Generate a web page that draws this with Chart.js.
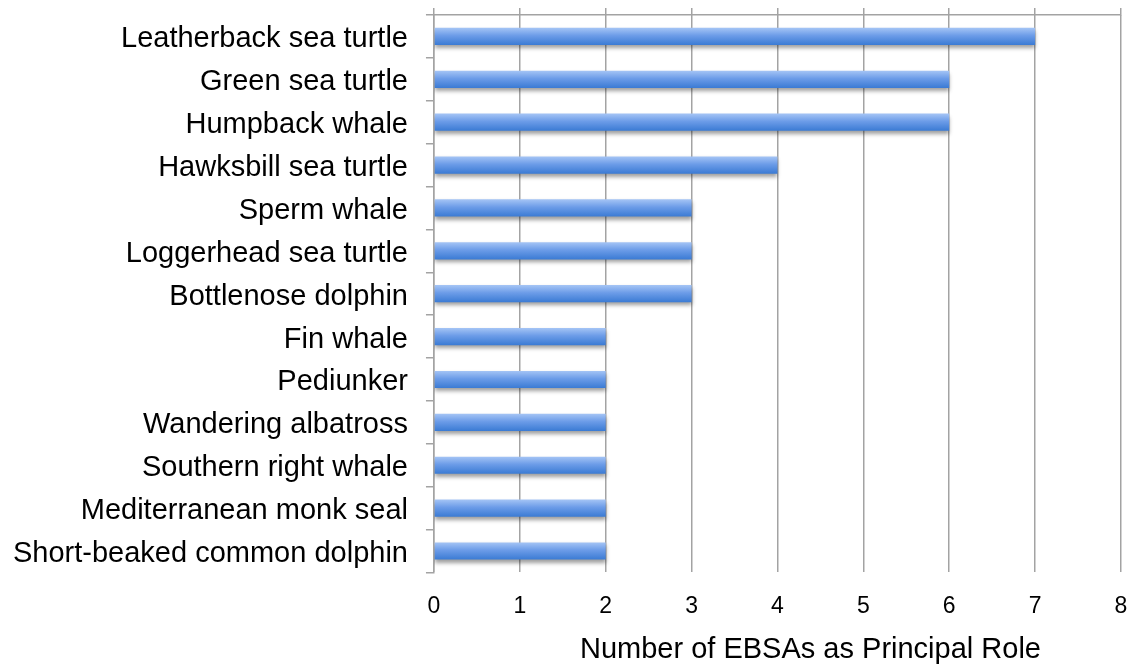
<!DOCTYPE html>
<html>
<head>
<meta charset="utf-8">
<script src="https://cdn.jsdelivr.net/npm/chart.js@4/dist/chart.umd.min.js"></script>
<style>
  html, body { margin: 0; padding: 0; background: #ffffff; }
  #wrap { width: 1132px; height: 664px; }
</style>
</head>
<body>
<div id="wrap"><canvas id="chart" width="1132" height="664"></canvas></div>
<script>
// Species and how many EBSAs each serves as a principal role
const species = [
  'Leatherback sea turtle',
  'Green sea turtle',
  'Humpback whale',
  'Hawksbill sea turtle',
  'Sperm whale',
  'Loggerhead sea turtle',
  'Bottlenose dolphin',
  'Fin whale',
  'Pediunker',
  'Wandering albatross',
  'Southern right whale',
  'Mediterranean monk seal',
  'Short-beaked common dolphin'
];
const ebsaCounts = [7, 6, 6, 4, 3, 3, 3, 2, 2, 2, 2, 2, 2];
const valueTicks = [0, 1, 2, 3, 4, 5, 6, 7, 8];
const axisTitle = 'Number of EBSAs as Principal Role';

const FONT = "'Liberation Sans', Arial, Helvetica, sans-serif";
const GRID = '#a3a3a3';

// Vertical gradient for each bar, lighter at the top
function barFill(context) {
  const chart = context.chart;
  const y = chart.scales && chart.scales.y;
  if (!chart.chartArea || !y) return '#6a9be6';
  const c = y.getPixelForValue(context.dataIndex);
  const half = 8.5;
  const g = chart.ctx.createLinearGradient(0, c - half, 0, c + half);
  g.addColorStop(0, '#a4c4f5');
  g.addColorStop(0.45, '#6c9ce8');
  g.addColorStop(1, '#3b7bd4');
  return g;
}

// Soft drop shadow under the bars
const barShadow = {
  id: 'barShadow',
  beforeDatasetsDraw(chart) {
    const ctx = chart.ctx;
    ctx.save();
    ctx.shadowColor = 'rgba(0,0,0,0.38)';
    ctx.shadowBlur = 4;
    ctx.shadowOffsetY = 3;
  },
  afterDatasetsDraw(chart) {
    chart.ctx.restore();
  }
};

// Axis title under the value ticks
const valueTitle = {
  id: 'valueTitle',
  afterDraw(chart) {
    const ctx = chart.ctx;
    const area = chart.chartArea;
    ctx.save();
    ctx.font = '29px ' + FONT;
    ctx.fillStyle = '#000000';
    ctx.textAlign = 'center';
    ctx.textBaseline = 'alphabetic';
    ctx.fillText(axisTitle, (area.left + area.right) / 2 + 33, 658);
    ctx.restore();
  }
};

new Chart(document.getElementById('chart'), {
  type: 'bar',
  data: {
    labels: species,
    datasets: [{
      data: ebsaCounts,
      backgroundColor: barFill,
      borderWidth: 0,
      categoryPercentage: 1,
      barPercentage: 0.4,
      xAxisID: 'x',
      yAxisID: 'y'
    }]
  },
  options: {
    indexAxis: 'y',
    responsive: false,
    animation: false,
    devicePixelRatio: 1,
    layout: { padding: { top: 8, right: 11, bottom: 24, left: 13 } },
    plugins: {
      legend: { display: false },
      tooltip: { enabled: false }
    },
    scales: {
      x: {
        type: 'linear',
        position: 'bottom',
        min: 0,
        max: 8,
        afterBuildTicks(scale) { scale.ticks = valueTicks.map(v => ({ value: v })); },
        afterFit(scale) { scale.paddingLeft = 0; scale.paddingRight = 0; },
        grid: { color: GRID, lineWidth: 1.5, drawTicks: false },
        border: { display: false },
        ticks: {
          color: '#000000',
          font: { family: FONT, size: 23 },
          padding: 20
        }
      },
      x2: {
        type: 'linear',
        position: 'top',
        min: 0,
        max: 8,
        afterBuildTicks(scale) { scale.ticks = valueTicks.map(v => ({ value: v })); },
        afterFit(scale) { scale.paddingLeft = 0; scale.paddingRight = 0; },
        grid: { color: GRID, lineWidth: 1.5, drawOnChartArea: false, drawTicks: true, tickLength: 7 },
        border: { display: true, color: GRID, width: 1.5 },
        ticks: { display: false }
      },
      y: {
        type: 'category',
        position: 'left',
        offset: true,
        afterFit(scale) {
          // keep the label column only as wide as labels + one padding + tick marks
          scale.width -= scale.options.ticks.padding;
          scale.paddingTop = 0;
          scale.paddingBottom = 0;
        },
        grid: { offset: true, color: GRID, lineWidth: 1.5, drawOnChartArea: false, drawTicks: true, tickLength: 8 },
        border: { display: true, color: GRID, width: 1.5 },
        ticks: {
          color: '#000000',
          font: { family: FONT, size: 29 },
          padding: 18,
          labelOffset: 3,
          autoSkip: false
        }
      }
    }
  },
  plugins: [barShadow, valueTitle]
});
</script>
</body>
</html>
